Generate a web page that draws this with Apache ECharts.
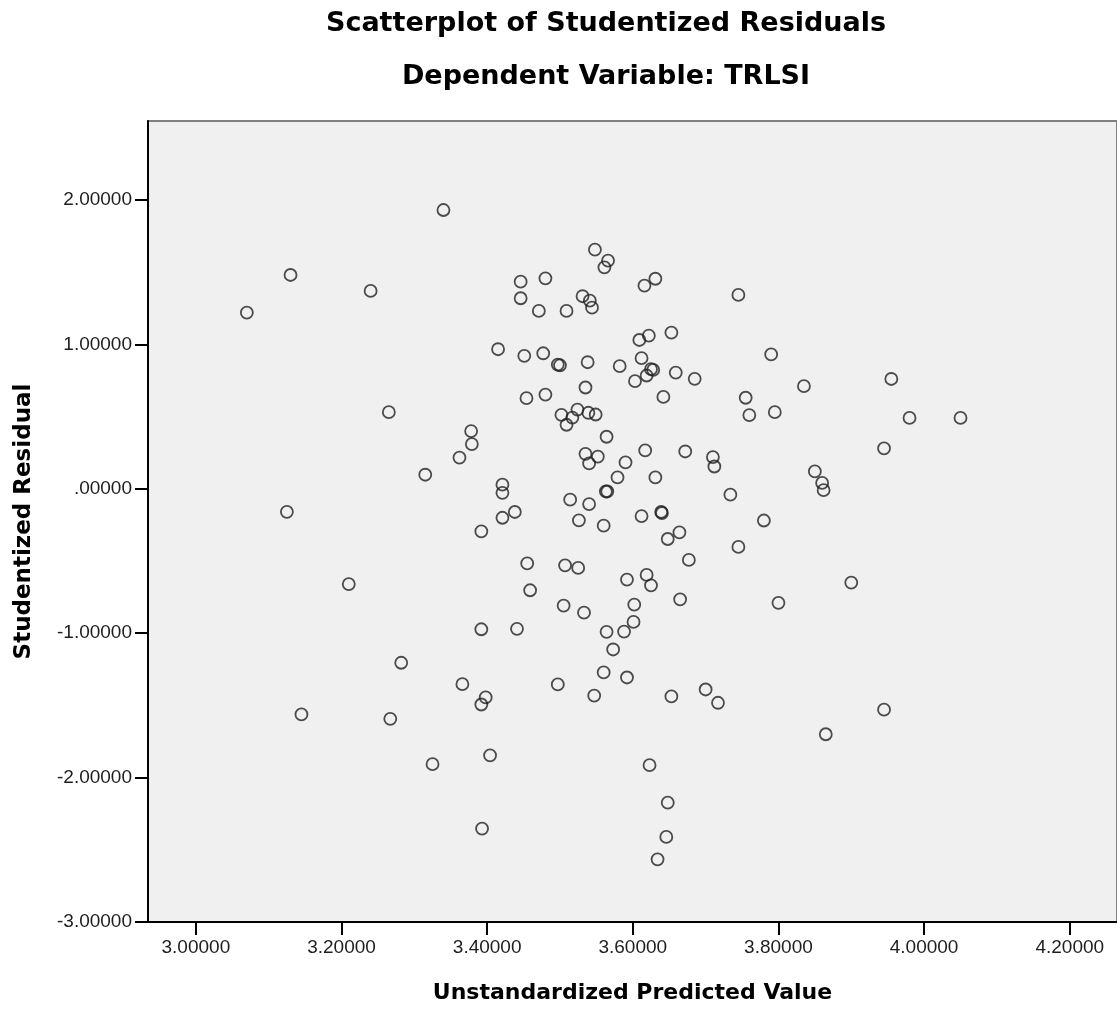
<!DOCTYPE html>
<html>
<head>
<meta charset="utf-8">
<title>Scatterplot of Studentized Residuals</title>
<script src="https://cdn.jsdelivr.net/npm/echarts@6/dist/echarts.min.js"></script>
<style>
  html, body { margin: 0; padding: 0; background: #ffffff; }
  #chart { width: 1117px; height: 1009px; }
</style>
</head>
<body>
<div id="chart"></div>
<script>
// Unstandardized predicted value (x) and studentized residual (y) per case
const predicted = [
  3.548, 3.566, 3.561, 3.446, 3.480, 3.631, 3.616, 3.446, 3.531, 3.541,
  3.544, 3.471, 3.509, 3.745, 3.609, 3.622, 3.653, 3.415, 3.451, 3.477,
  3.497, 3.500, 3.538, 3.582, 3.612, 3.619, 3.625, 3.628, 3.603, 3.659,
  3.685, 3.535, 3.642, 3.454, 3.480, 3.502, 3.509, 3.517, 3.524, 3.539,
  3.549, 3.564, 3.378, 3.379, 3.362, 3.315, 3.535, 3.552, 3.540, 3.617,
  3.590, 3.579, 3.631, 3.672, 3.710, 3.712,
  3.421, 3.421, 3.438, 3.421, 3.392, 3.514, 3.540, 3.526, 3.560, 3.563,
  3.565, 3.612, 3.639, 3.640, 3.664, 3.648, 3.734, 3.745, 3.677, 3.455,
  3.507, 3.525, 3.592, 3.619, 3.625, 3.459, 3.665, 3.602, 3.505, 3.533,
  3.601, 3.564, 3.588, 3.392, 3.441, 3.573, 3.282, 3.366, 3.398, 3.392,
  3.497, 3.547, 3.560, 3.592, 3.653, 3.700, 3.717,
  3.145, 3.267, 3.325, 3.404, 3.623, 3.393, 3.648, 3.646, 3.634,
  3.070, 3.130, 3.240, 3.265, 3.125, 3.210, 3.340, 3.790, 3.835, 3.755,
  3.760, 3.795, 3.955, 3.980, 4.050, 3.945, 3.850, 3.860, 3.862, 3.780,
  3.800, 3.900, 3.945, 3.865
];
const residuals = [
  1.655, 1.579, 1.533, 1.434, 1.457, 1.454, 1.406, 1.319, 1.333, 1.302,
  1.254, 1.231, 1.231, 1.342, 1.030, 1.060, 1.081, 0.966, 0.920, 0.938,
  0.860, 0.855, 0.876, 0.849, 0.904, 0.784, 0.828, 0.823, 0.745, 0.804,
  0.761, 0.701, 0.636, 0.627, 0.652, 0.512, 0.443, 0.493, 0.548, 0.526,
  0.514, 0.360, 0.399, 0.309, 0.216, 0.097, 0.242, 0.223, 0.175, 0.265,
  0.182, 0.078, 0.078, 0.258, 0.219, 0.154,
  0.028, -0.028, -0.161, -0.201, -0.295, -0.076, -0.106, -0.219, -0.256, -0.019,
  -0.019, -0.189, -0.161, -0.168, -0.302, -0.348, -0.041, -0.403, -0.493, -0.517,
  -0.530, -0.548, -0.629, -0.597, -0.669, -0.703, -0.766, -0.802, -0.809, -0.858,
  -0.922, -0.991, -0.989, -0.973, -0.970, -1.113, -1.205, -1.353, -1.445, -1.494,
  -1.355, -1.432, -1.272, -1.307, -1.438, -1.390, -1.482,
  -1.563, -1.593, -1.907, -1.846, -1.914, -2.353, -2.174, -2.411, -2.566,
  1.220, 1.480, 1.370, 0.530, -0.160, -0.660, 1.930, 0.930, 0.710, 0.630,
  0.510, 0.530, 0.760, 0.490, 0.490, 0.280, 0.120, 0.040, -0.010, -0.220,
  -0.790, -0.650, -1.530, -1.700
];

// Axis tick positions
const xTicks = [3.0, 3.2, 3.4, 3.6, 3.8, 4.0, 4.2];
const yTicks = [-3, -2, -1, 0, 1, 2];

const titleText = 'Scatterplot of Studentized Residuals';
const subtitleText = 'Dependent Variable: TRLSI';
const xName = 'Unstandardized Predicted Value';
const yName = 'Studentized Residual';

const points = predicted.map((x, i) => [x, residuals[i]]);

// SPSS-style number format: five decimals, no leading zero before the point
function fmt(v) {
  let s = Math.abs(v) < 1e-9 ? '0.00000' : v.toFixed(5);
  if (s.startsWith('0.')) s = s.slice(1);
  if (s.startsWith('-0.')) s = '-' + s.slice(2);
  return s;
}

const chart = echarts.init(document.getElementById('chart'), null, { renderer: 'canvas' });

const labelFont = { fontFamily: 'Liberation Sans', fontSize: 19, color: '#1e1e1e' };
const nameFont = { fontFamily: 'DejaVu Sans', fontWeight: 'bold', color: '#000' };

chart.setOption({
  animation: false,
  backgroundColor: '#ffffff',
  graphic: [
    {
      type: 'text', x: 606, y: 24,
      style: { text: titleText, fontFamily: 'DejaVu Sans', fontWeight: 'bold', fontSize: 27,
               fill: '#000', align: 'center', verticalAlign: 'middle' }
    },
    {
      type: 'text', x: 606, y: 77,
      style: { text: subtitleText, fontFamily: 'DejaVu Sans', fontWeight: 'bold', fontSize: 27,
               fill: '#000', align: 'center', verticalAlign: 'middle' }
    }
  ],
  grid: {
    left: 148, top: 121, right: -3, bottom: 86,
    show: true, backgroundColor: '#f0f0f0', borderColor: '#808080', borderWidth: 2
  },
  xAxis: {
    type: 'value',
    min: 2.93429, max: 4.26489,
    name: xName, nameLocation: 'middle', nameGap: 60,
    nameTextStyle: { ...nameFont, fontSize: 22 },
    axisLine: { show: true, onZero: false, lineStyle: { color: '#000', width: 2 } },
    axisTick: { show: true, inside: false, length: 13, customValues: xTicks,
                lineStyle: { color: '#000', width: 2 } },
    axisLabel: { customValues: xTicks, margin: 16.5, formatter: fmt, ...labelFont },
    splitLine: { show: false }
  },
  yAxis: {
    type: 'value',
    min: -3, max: 2.5463,
    name: yName, nameLocation: 'middle', nameGap: 112,
    nameTextStyle: { ...nameFont, fontSize: 23 },
    axisLine: { show: true, onZero: false, lineStyle: { color: '#000', width: 2 } },
    axisTick: { show: true, inside: false, length: 13, customValues: yTicks,
                lineStyle: { color: '#000', width: 2 } },
    axisLabel: { customValues: yTicks, margin: 16, formatter: fmt, ...labelFont },
    splitLine: { show: false }
  },
  series: [{
    type: 'scatter',
    data: points,
    symbol: 'circle',
    symbolSize: 12,
    itemStyle: { color: 'rgba(0,0,0,0)', borderColor: '#222', borderWidth: 1.8 },
    emphasis: { disabled: true }
  }]
});
</script>
</body>
</html>
